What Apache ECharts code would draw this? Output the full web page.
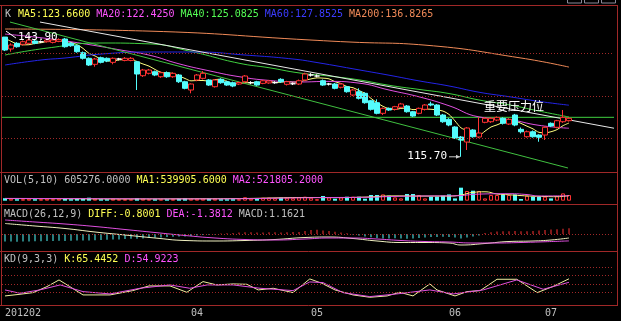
<!DOCTYPE html>
<html><head><meta charset="utf-8">
<script src="https://cdn.jsdelivr.net/npm/echarts@6/dist/echarts.min.js"></script>
<style>html,body{margin:0;padding:0;background:#000;}#c{width:621px;height:321px;}</style>
</head><body><div id="c"></div>
<script>
// ---------- data ----------
const slots = Array.from({length: 102}, (_, i) => String(i));
const xTickIndex = [0, 31, 51, 74, 90];
const xTickText = ['201202', '04', '05', '06', '07'];

const open = [143.90,141.09,142.43,142.2,142.43,142.97,142.8,142.8,142.65,142.9,
143.44,142.43,141.86,140.21,138.9,137.48,139.04,138.9,137.95,138.73,
138.4,138.4,138.09,134.8,135.36,135.74,134.56,135.5,134.56,134.96,
133.38,131.43,133.79,134.18,133.79,132.21,133.95,133.38,133.15,132.84,
133.38,133.15,133.38,133.0,133.1,133.15,133.95,132.77,132.9,132.84,
133.79,134.96,134.73,133.62,132.84,132.84,132.07,132.21,130.25,131.03,
130.65,128.91,128.44,125.94,127.12,126.88,127.36,127.66,126.32,125.94,
126.88,128.14,127.9,125.54,124.53,122.72,120.36,119.18,122.01,120.36,
123.82,123.96,124.36,124.76,123.42,125.54,122.17,120.43,121.6,120.83,
120.83,123.59,122.65,123.96,124.2];
const close = [140.85,142.03,141.63,142.8,143.2,142.43,142.8,143.2,143.2,143.3,
141.63,141.86,140.45,138.9,137.32,138.73,137.95,138.26,138.9,138.73,
138.9,138.9,135.2,136.14,136.14,134.96,135.5,134.56,135.36,133.38,
131.83,132.84,134.96,135.36,132.6,133.79,133.15,132.6,132.37,133.2,
134.73,133.15,132.6,133.6,133.55,133.15,133.38,133.38,132.9,133.62,
135.2,134.96,134.73,132.6,132.84,131.83,132.84,131.03,131.43,129.48,
128.44,126.88,125.94,127.12,126.72,127.5,128.14,126.32,125.3,127.12,
127.9,127.9,125.54,123.96,123.19,120.13,119.66,122.48,120.43,121.3,
124.76,124.76,124.99,123.59,124.53,123.19,121.6,121.6,120.43,120.3,
122.65,122.95,124.2,124.99,124.76];
const high = [143.90,142.43,142.7,143.1,143.5,143.2,143.1,143.4,143.5,143.6,
143.7,142.7,142.1,140.5,139.1,139.0,139.3,139.1,139.1,139.0,
139.2,139.2,138.3,136.4,136.4,136.0,135.8,135.8,135.6,135.2,
133.6,133.0,135.2,135.9,134.0,134.0,134.2,133.6,133.4,133.4,
134.96,133.5,133.6,133.8,133.8,133.5,134.2,133.6,133.2,133.9,
135.5,135.4,135.1,133.9,133.1,133.1,133.1,132.4,131.7,131.83,
130.9,129.1,129.24,127.3,127.3,127.7,128.4,127.9,126.5,127.3,
128.1,128.68,128.1,125.8,124.8,122.9,120.6,122.7,122.2,125.0,
125.0,125.0,125.2,125.0,124.8,125.8,122.6,121.9,121.9,121.0,
122.9,123.8,124.4,126.72,125.0];
const low = [140.6,140.45,141.4,141.9,142.2,142.2,142.5,142.6,142.4,142.7,
141.4,141.6,140.2,138.6,137.1,136.92,137.7,138.0,137.48,138.4,
138.2,138.2,131.43,134.5,135.1,134.7,134.3,134.3,134.3,133.1,
131.6,130.65,133.5,133.9,132.4,132.0,132.9,132.4,132.1,132.6,
133.1,132.8,132.4,132.8,132.9,132.9,133.1,132.5,132.6,132.6,
133.5,134.6,134.4,132.4,132.5,131.6,131.8,130.8,130.0,129.2,
128.2,126.6,125.7,125.54,126.5,126.6,127.1,126.1,125.1,125.7,
126.6,127.6,125.3,123.7,122.9,119.9,115.70,117.3,120.2,120.1,
123.6,123.7,124.1,123.3,123.2,122.9,121.2,120.2,120.2,119.25,
119.66,122.7,122.4,123.7,124.0];

const ma5 = [143.6,142.91,142.28,142.07,142.10,142.41,142.56,142.88,142.98,143.0,
142.84,142.65,142.11,141.24,140.05,139.46,138.68,138.26,138.26,138.53,
138.57,138.76,138.11,137.56,137.06,136.27,135.59,135.49,135.32,134.76,
134.14,133.59,133.67,133.67,133.51,133.89,133.95,133.48,132.89,132.95,
133.14,133.14,133.14,133.39,133.52,133.21,133.27,133.44,133.29,133.31,
133.73,134.04,134.29,134.23,134.06,133.38,132.95,132.22,131.98,131.31,
130.63,129.45,128.44,127.58,127.03,126.85,127.1,127.17,126.81,126.89,
126.95,126.89,126.74,126.47,125.69,124.15,122.52,121.91,121.2,120.8,
121.74,122.72,123.21,123.84,124.49,124.18,123.57,122.91,122.28,121.46,
121.35,121.6,122.1,123.03,123.66];
const ma20 = [[0,144.6],[5,143.9],[10,143.0],[15,141.9],[19,140.92],[24,139.66],[29,137.6],[34,135.96],[39,134.57],[44,133.69],[49,133.32],[54,133.46],[59,133.05],[64,131.43],[69,129.83],[74,127.73],[79,125.1],[84,124.47],[89,123.11],[94,122.425]];
const ma40 = [[0,139.67],[7,141.3],[16,142.5],[24,142.3],[31,140.5],[39,137.74],[44,136.68],[49,135.46],[54,134.71],[59,133.82],[64,132.55],[69,131.57],[74,130.6],[79,129.08],[84,127.94],[89,126.47],[94,125.0825]];
const ma60 = [[0,137.32],[6,138.5],[10,138.97],[16,139.9],[24,140.38],[32,140.38],[40,139.67],[48,138.73],[52,137.9],[59,136.17],[64,134.92],[69,133.58],[74,132.38],[79,130.91],[84,129.86],[89,128.75],[94,127.8525]];
const ma200 = [[0,145.8],[24,145.3],[51,143.2],[58,142.7],[70,142.0],[86,138.97],[94,136.8265]];

const trendGreen = [[0.83,147.44],[93.83,113.06]];
const trendWhite = [[5.83,147.44],[101.5,122.43]];
const resistance = 125.0;
const priceGrid = [120, 130, 140];

const volume = [266000,212000,159000,159000,212000,159000,159000,212000,159000,212000,
266000,159000,212000,212000,319000,212000,159000,159000,212000,159000,
159000,159000,266000,212000,159000,159000,159000,159000,159000,212000,
266000,212000,212000,212000,212000,212000,159000,159000,159000,159000,
372000,212000,212000,319000,319000,266000,319000,319000,266000,372000,
425000,319000,159000,499000,350000,212000,350000,425000,425000,425000,
212000,605000,605000,669000,531000,350000,244000,712000,712000,605000,
244000,425000,425000,531000,669000,244000,1381000,1030000,1062000,1030000,
244000,605000,605000,669000,605000,669000,181000,531000,425000,425000,
425000,244000,499000,775000,605276];
const volMa1 = [[0,234000],[10,212000],[20,191000],[30,202000],[40,234000],[45,297000],[50,340000],[55,329000],[60,382000],[65,510000],[70,489000],[74,489000],[76,605000],[78,881000],[80,945000],[82,712000],[84,627000],[86,542000],[88,478000],[90,446000],[92,425000],[94,539905.6]];
const volMa2 = [[0,244000],[10,223000],[20,202000],[30,191000],[40,212000],[45,266000],[50,308000],[55,340000],[60,361000],[65,457000],[70,499000],[75,520000],[79,701000],[84,743000],[87,650000],[89,499000],[94,521805.2]];

const macdBar = [-1.5,-1.5,-1.55,-1.5,-1.5,-1.45,-1.45,-1.4,-1.4,-1.35,
-1.4,-1.35,-1.3,-1.3,-1.3,-1.25,-1.2,-1.15,-1.1,-1.1,
-1.0,-0.95,-0.95,-0.9,-0.8,-0.75,-0.7,-0.6,-0.55,-0.5,
-0.5,-0.4,-0.3,-0.2,-0.15,-0.1,0.1,0.15,0.2,0.3,
0.35,0.35,0.3,0.3,0.35,0.35,0.3,0.35,0.4,0.4,
0.6,0.8,0.85,0.7,0.6,0.45,0.3,0.15,-0.1,-0.3,
-0.5,-0.65,-0.8,-0.9,-0.9,-0.85,-0.9,-0.95,-0.9,-0.8,
-0.7,-0.6,-0.6,-0.55,-0.6,-0.7,-0.9,-0.7,-0.5,-0.3,
0.2,0.35,0.5,0.55,0.55,0.6,0.55,0.55,0.6,0.7,
0.8,0.9,0.95,1.05,1.1621];
const diff = [[0,2.1],[5,1.6],[10,1.1],[15,0.4],[20,-0.2],[25,-0.8],[30,-1.3],[35,-1.4],[40,-1.3],[45,-1.1],[50,-0.7],[54,-0.6],[58,-0.9],[62,-1.4],[66,-1.7],[70,-1.7],[74,-1.8],[76,-2.2],[80,-1.9],[84,-1.5],[88,-1.4],[91,-1.2],[94,-0.8001]];
const dea = [[0,2.8],[5,2.4],[10,2.0],[15,1.5],[20,0.9],[25,0.3],[30,-0.3],[35,-0.8],[40,-1.1],[45,-1.2],[50,-1.0],[54,-0.8],[58,-0.8],[62,-1.0],[66,-1.3],[70,-1.5],[74,-1.6],[78,-1.8],[82,-1.8],[86,-1.7],[90,-1.55],[94,-1.3812]];

const kLine = [[0,14],[2.5,19],[4.7,24],[7,42],[9,62],[10.8,42],[13,17],[17.5,17],[21.3,30],[24,44],[27.5,44],[30.3,25],[33,57],[35.3,47],[38,50],[40.3,49],[42.2,32],[44.7,37],[48,24],[50.8,65],[52.8,52],[55,32],[58,17],[60.8,10],[63.7,14],[65.8,25],[68,14],[70.8,50],[72,32],[75,14],[77,27],[79.2,30],[82,64],[85.3,64],[88.7,24],[91.3,42],[94,65.4452]];
const dLine = [[0,32],[2.5,22],[5.8,32],[9.2,47],[13,27],[17.5,20],[22.5,37],[27.5,47],[30.8,37],[33.7,47],[38,47],[42.5,37],[48,30],[50.8,56],[53,54],[56.3,24],[60.8,12],[65.3,20],[70.8,32],[74.7,20],[79.7,32],[85.3,62],[89.7,34],[94,54.9223]];
const kdGrid = [25, 50, 75, 100];

// ---------- style ----------
const RED = '#ff3232', CYAN = '#54fcfc', FRAME = '#a02828', DOT = '#a02828';
const C = {gray:'#c0c0c0', yellow:'#ffff54', magenta:'#ff54ff', green:'#54fc54', blue:'#3c3cff', orange:'#f08a58', white:'#ffffff'};
const FONT = '10px "DejaVu Sans Mono", monospace';
const CW = 6.02;

const chart = echarts.init(document.getElementById('c'));
const grids = [
  {left: 2, width: 612, top: 20, height: 152},
  {left: 2, width: 612, top: 186, height: 14.7},
  {left: 2, width: 612, top: 214, height: 36},
  {left: 2, width: 612, top: 262, height: 43}
];
const xAxes = [];
grids.forEach((g, gi) => {
  xAxes.push({type: 'category', gridIndex: gi, data: slots, boundaryGap: true,
    show: gi === 3, axisLine: {show: false}, axisTick: {show: false}, splitLine: {show: false},
    axisLabel: {show: gi === 3, interval: (idx) => xTickIndex.includes(idx),
      formatter: (v, idx) => xTickText[xTickIndex.indexOf(Number(v))] || '',
      color: C.gray, fontFamily: '"DejaVu Sans Mono", monospace', fontSize: 10, align: 'left', margin: 3}});
  xAxes.push({type: 'value', gridIndex: gi, min: -0.5, max: 101.5, show: false});
});
const yAxes = [
  {gridIndex: 0, min: 112.12, max: 147.92, show: false},
  {gridIndex: 1, min: 0, max: 1560000, show: false},
  {gridIndex: 2, min: -3.2, max: 4.0, show: false},
  {gridIndex: 3, min: -13.2, max: 115.8, show: false}
];
const dotted = {color: DOT, width: 1, type: [1, 2]};
function ln(name, data, color, xi, yi, smooth) {
  return {name, type: 'line', data, xAxisIndex: xi, yAxisIndex: yi, showSymbol: false, symbol: 'none',
    smooth: smooth || false, lineStyle: {color, width: 1}, itemStyle: {color}, silent: true, animation: false, z: 3};
}
const candleData = open.map((o, i) => [o, close[i], low[i], high[i]]);
const volData = volume.map((v, i) => ({value: v, itemStyle: close[i] >= open[i] ?
  {color: '#000', borderColor: RED, borderWidth: 1} : {color: CYAN, borderColor: CYAN, borderWidth: 0}}));
const macdData = macdBar.map(v => ({value: v, itemStyle: {color: v >= 0 ? RED : CYAN}}));

const series = [
  {type: 'candlestick', xAxisIndex: 0, yAxisIndex: 0, data: candleData, barWidth: 5, silent: true, z: 4,
    itemStyle: {color: '#000', color0: CYAN, borderColor: RED, borderColor0: CYAN, borderColorDoji: '#ffffff', borderWidth: 1},
    markLine: {silent: true, symbol: 'none', label: {show: false}, animation: false, lineStyle: dotted,
      data: priceGrid.map(v => ({yAxis: v}))}},
  ln('resistance', [[-0.5, resistance], [101.5, resistance]], '#40d040', 1, 0),
  ln('MA5', ma5.map((v, i) => [i, v]), '#ffff80', 1, 0, 0.3),
  ln('MA20', ma20, '#e050e0', 1, 0, true),
  ln('MA40', ma40, '#40d040', 1, 0, true),
  ln('MA60', ma60, '#2424e8', 1, 0, true),
  ln('MA200', ma200, C.orange, 1, 0, true),
  ln('trendW', trendWhite, '#e8e8e8', 1, 0),
  ln('trendG', trendGreen, '#40c040', 1, 0),
  {type: 'bar', xAxisIndex: 2, yAxisIndex: 1, data: volData, barWidth: 4, silent: true},
  ln('VMA1', volMa1, '#ffff80', 3, 1, true),
  ln('VMA2', volMa2, '#e050e0', 3, 1, true),
  {type: 'bar', xAxisIndex: 4, yAxisIndex: 2, data: macdData, barWidth: 1, silent: true,
    markLine: {silent: true, symbol: 'none', label: {show: false}, lineStyle: dotted, data: [{yAxis: 0}]}},
  ln('DIFF', diff, '#f0f0c0', 5, 2, true),
  ln('DEA', dea, '#e050e0', 5, 2, true),
  Object.assign(ln('K', kLine, '#f0f0a0', 7, 3), {markLine: {silent: true, symbol: 'none', label: {show: false},
    lineStyle: dotted, data: kdGrid.map(v => ({yAxis: v}))}}),
  ln('D', dLine, '#e050e0', 7, 3)
];

function legend(x0, y, parts) {
  const out = []; let x = x0;
  parts.forEach(([t, col]) => {
    out.push({type: 'text', x: x, y: y, silent: true, z: 10,
      style: {text: t, fill: col, font: FONT, textAlign: 'left', textVerticalAlign: 'middle', align: 'left', verticalAlign: 'middle'}});
    x += t.length * CW;
  });
  return out;
}
const f4 = v => Number(v).toFixed(4);
const last = a => a[a.length - 1];
const lastY = a => last(a)[1];

const graphics = [];
// frame lines
[5.5, 172.5, 204.5, 251.5, 305.5].forEach(y => graphics.push({type: 'line', silent: true, z: 1,
  shape: {x1: 0, y1: y, x2: 617, y2: y}, style: {stroke: FRAME, lineWidth: 1}}));
[1.5, 617.5].forEach(x => graphics.push({type: 'line', silent: true, z: 1,
  shape: {x1: x, y1: 5, x2: x, y2: 306}, style: {stroke: FRAME, lineWidth: 1}}));
// window buttons peeking at the top edge
[567.5, 584.5, 601.5].forEach(x => graphics.push({type: 'rect', silent: true, z: 1,
  shape: {x: x, y: -8, width: 14, height: 11}, style: {fill: 'none', stroke: '#8a8a9a', lineWidth: 1}}));
graphics.push(...legend(5, 14, [['K', C.gray]]));
graphics.push(...legend(18, 14, [
  ['MA5:' + f4(last(ma5)) + ' ', C.yellow], ['MA20:' + f4(lastY(ma20)) + ' ', C.magenta],
  ['MA40:' + f4(lastY(ma40)) + ' ', C.green], ['MA60:' + f4(lastY(ma60)) + ' ', C.blue],
  ['MA200:' + f4(lastY(ma200)), C.orange]]));
graphics.push(...legend(4, 180, [['VOL(5,10) ' + f4(last(volume)) + ' ', C.gray],
  ['MA1:' + f4(lastY(volMa1)) + ' ', C.yellow], ['MA2:' + f4(lastY(volMa2)), C.magenta]]));
graphics.push(...legend(4, 214, [['MACD(26,12,9) ', C.gray], ['DIFF:' + f4(lastY(diff)) + ' ', C.yellow],
  ['DEA:' + f4(lastY(dea)) + ' ', C.magenta], ['MACD:' + f4(last(macdBar)), C.gray]]));
graphics.push(...legend(4, 259, [['KD(9,3,3) ', C.gray], ['K:' + f4(lastY(kLine)) + ' ', C.yellow],
  ['D:' + f4(lastY(dLine)), C.magenta]]));

chart.setOption({backgroundColor: '#000', animation: false, grid: grids, xAxis: xAxes, yAxis: yAxes, series, graphic: graphics});

// annotations tied to data
const hiIdx = high.indexOf(Math.max(...high));
const loIdx = low.indexOf(Math.min(...low));
const hp = chart.convertToPixel({xAxisIndex: 0, yAxisIndex: 0}, [hiIdx, high[hiIdx]]);
const lp = chart.convertToPixel({xAxisIndex: 0, yAxisIndex: 0}, [loIdx, low[loIdx]]);
const rp = chart.convertToPixel({xAxisIndex: 1, yAxisIndex: 0}, [80, resistance]);
const BIG = '11px "DejaVu Sans Mono", monospace';
graphics.push(
  {type: 'line', silent: true, z: 10, shape: {x1: hp[0] + 1, y1: hp[1] - 6, x2: hp[0] + 11, y2: hp[1] + 1}, style: {stroke: '#fff', lineWidth: 1}},
  {type: 'text', silent: true, z: 10, x: hp[0] + 13, y: hp[1], style: {text: high[hiIdx].toFixed(2), fill: '#fff', font: BIG, textVerticalAlign: 'middle', verticalAlign: 'middle'}},
  {type: 'text', silent: true, z: 10, x: lp[0] - 14, y: lp[1] - 1, style: {text: low[loIdx].toFixed(2), fill: '#fff', font: BIG, textAlign: 'right', align: 'right', textVerticalAlign: 'middle', verticalAlign: 'middle'}},
  {type: 'line', silent: true, z: 10, shape: {x1: lp[0] - 12, y1: lp[1], x2: lp[0] - 1, y2: lp[1]}, style: {stroke: '#ccc', lineWidth: 1}},
  {type: 'polygon', silent: true, z: 10, shape: {points: [[lp[0] - 1, lp[1]], [lp[0] - 5, lp[1] - 2], [lp[0] - 5, lp[1] + 2]]}, style: {fill: '#ccc'}},
  {type: 'text', silent: true, z: 10, x: rp[0] - 1, y: rp[1] - 11, style: {text: '重要压力位', fill: '#fff', font: '12px "Noto Sans CJK SC", sans-serif', textVerticalAlign: 'middle', verticalAlign: 'middle'}}
);
chart.setOption({graphic: graphics});
</script>
</body></html>
